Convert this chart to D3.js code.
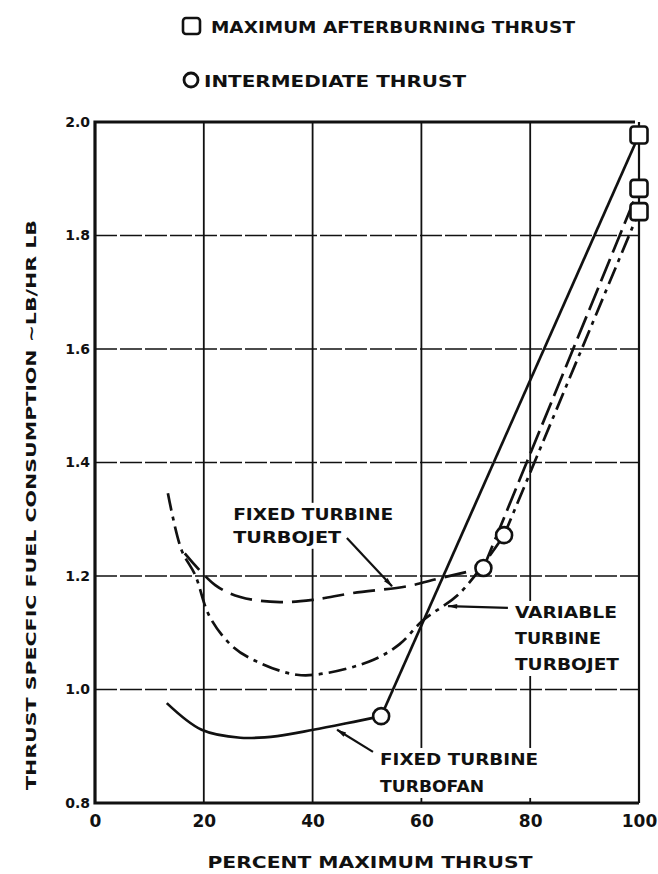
<!DOCTYPE html>
<html><head><meta charset="utf-8">
<script src="https://cdn.jsdelivr.net/npm/d3@7"></script>
<style>
html,body{margin:0;padding:0;background:#fff;}
svg{display:block;}
text{font-family:"DejaVu Sans",sans-serif;font-weight:bold;fill:#111;}
</style></head>
<body><svg id="c" width="658" height="874"></svg>
<script>
// ---- data ----
const xTicks = [0, 20, 40, 60, 80, 100];
const yTicks = [0.8, 1.0, 1.2, 1.4, 1.6, 1.8, 2.0];
const yTickLabels = ["0.8", "1.0", "1.2", "1.4", "1.6", "1.8", "2.0"];

// Fixed turbine turbofan (solid) – part-power curve ending at intermediate thrust
const turbofanX = [13.2, 19.6, 26.7, 33.5, 40.1, 46.0, 51.1, 52.6];
const turbofanY = [0.976, 0.929, 0.915, 0.918, 0.929, 0.940, 0.950, 0.953];
// Fixed turbine turbojet (long dashed)
const fixedJetX = [16.5, 22.1, 26.7, 34.0, 40.1, 47.4, 57.4, 63.4, 71.4];
const fixedJetY = [1.240, 1.184, 1.163, 1.154, 1.158, 1.170, 1.182, 1.196, 1.214];
// Variable turbine turbojet (dash-dot)
const varJetX = [13.4, 15.9, 18.4, 21.1, 25.4, 30.5, 37.1, 42.6, 51.1, 56.0, 60.3, 67.1, 75.2];
const varJetY = [1.346, 1.246, 1.202, 1.128, 1.075, 1.046, 1.026, 1.029, 1.052, 1.080, 1.122, 1.170, 1.272];

// Intermediate thrust points (circles) and max afterburning points (squares)
const interX = [52.6, 71.4, 75.2];
const interY = [0.953, 1.214, 1.272];
const abX = [100, 100, 100];
const abY = [1.977, 1.883, 1.842];

// ---- scales ----
const svg = d3.select("#c");
const x = d3.scaleLinear().domain([0, 100]).range([95, 639]);
const y = d3.scaleLinear().domain([0.8, 2.0]).range([803, 122]);

// ---- grid ----
const g = svg.append("g");
g.selectAll(".vg").data([20, 40, 60, 80]).enter().append("line")
  .attr("x1", d => x(d)).attr("x2", d => x(d))
  .attr("y1", y(2.0)).attr("y2", y(0.8))
  .attr("stroke", "#111").attr("stroke-width", 1.8);
g.selectAll(".hg").data([1.0, 1.2, 1.4, 1.6, 1.8]).enter().append("line")
  .attr("x1", x(0)).attr("x2", x(100))
  .attr("y1", d => y(d)).attr("y2", d => y(d))
  .attr("stroke", "#111").attr("stroke-width", 1.3)
  .attr("stroke-dasharray", "22,3");

// ---- frame ----
g.append("line").attr("x1", x(100)).attr("x2", x(100)).attr("y1", y(2.0)).attr("y2", y(0.8))
  .attr("stroke", "#111").attr("stroke-width", 2.2);
g.append("path")
  .attr("d", `M${x(100)-4},${y(2.0)} L${x(0)},${y(2.0)} L${x(0)},${y(0.8)} L${x(100)},${y(0.8)}`)
  .attr("fill", "none").attr("stroke", "#111").attr("stroke-width", 3.2);

// ---- axes tick labels ----
const xAxis = d3.axisBottom(x).tickValues(xTicks).tickSize(0).tickPadding(12).tickFormat(d3.format("d"));
const xa = svg.append("g").attr("transform", `translate(0,${y(0.8)})`).call(xAxis);
xa.select(".domain").remove();
xa.selectAll("text").style("font-family", '"DejaVu Sans",sans-serif').style("font-weight", "bold")
  .style("font-size", "17px").attr("fill", "#111");

const yAxis = d3.axisLeft(y).tickValues(yTicks).tickSize(0).tickPadding(5)
  .tickFormat((d, i) => yTickLabels[i]);
const ya = svg.append("g").attr("transform", `translate(${x(0)},0)`).call(yAxis);
ya.select(".domain").remove();
ya.selectAll("text").style("font-family", '"DejaVu Sans",sans-serif').style("font-weight", "bold")
  .style("font-size", "14px").attr("fill", "#111");

// ---- labels (they interrupt the grid) ----
function label(lines, lx, ly0, dy, size, widths) {
  const grp = svg.append("g");
  lines.forEach((t, i) => {
    const tx = grp.append("text").attr("x", x(lx)).attr("y", y(ly0) + i * dy)
      .style("font-size", size + "px").text(t);
    if (widths && widths[i]) tx.attr("textLength", widths[i]).attr("lengthAdjust", "spacingAndGlyphs");
  });
  const bb = grp.node().getBBox();
  grp.insert("rect", "text").attr("x", bb.x - 3).attr("y", bb.y - 2)
    .attr("width", bb.width + 6).attr("height", bb.height + 4).attr("fill", "#fff");
  return grp;
}

// ---- curves ----
const line = d3.line().x(d => x(d[0])).y(d => y(d[1])).curve(d3.curveCatmullRom.alpha(0.5));
const lin = d3.line().x(d => x(d[0])).y(d => y(d[1]));
const zip = (a, b) => a.map((v, i) => [v, b[i]]);

const curves = svg.append("g").attr("fill", "none").attr("stroke", "#111").attr("stroke-width", 2.7);
curves.append("path").attr("d", line(zip(turbofanX, turbofanY)));
curves.append("path").attr("d", lin([[interX[0], interY[0]], [abX[0], abY[0]]]));
curves.append("path").attr("d", line(zip(fixedJetX, fixedJetY))).attr("stroke-dasharray", "22,9");
curves.append("path").attr("d", lin([[interX[1], interY[1]], [abX[1], abY[1]]])).attr("stroke-dasharray", "24,7");
curves.append("path").attr("d", line(zip(varJetX, varJetY))).attr("stroke-dasharray", "18,6,4,6");
curves.append("path").attr("d", lin([[interX[2], interY[2]], [abX[2], abY[2]]])).attr("stroke-dasharray", "18,6,4,6");

// ---- symbols ----
svg.selectAll(".ci").data(zip(interX, interY)).enter().append("circle")
  .attr("cx", d => x(d[0])).attr("cy", d => y(d[1])).attr("r", 8)
  .attr("fill", "#fff").attr("stroke", "#111").attr("stroke-width", 2.6);
svg.selectAll(".sq").data(zip(abX, abY)).enter().append("rect")
  .attr("x", d => x(d[0]) - 8.5).attr("y", d => y(d[1]) - 8.5)
  .attr("width", 17).attr("height", 17).attr("rx", 3)
  .attr("fill", "#fff").attr("stroke", "#111").attr("stroke-width", 2.6);

// ---- annotations ----
label(["FIXED TURBINE", "TURBOJET"], 25.4, 1.299, 23, 16, [160, 108]);
label(["VARIABLE", "TURBINE", "TURBOJET"], 77.2, 1.126, 26, 16, [102, 86, 104]);
label(["FIXED TURBINE", "TURBOFAN"], 52.4, 0.867, 27, 16, [158, 104]);

// arrows
const defs = svg.append("defs");
defs.append("marker").attr("id", "ah").attr("viewBox", "0 0 14 10").attr("refX", 13).attr("refY", 5)
  .attr("markerWidth", 13).attr("markerHeight", 7).attr("orient", "auto").attr("markerUnits", "userSpaceOnUse")
  .append("path").attr("d", "M0,1.5 L14,5 L0,8.5 Z").attr("fill", "#111");
const arrows = [
  [[46.3, 1.267], [54.6, 1.182]],
  [[75.9, 1.144], [64.9, 1.147]],
  [[51.1, 0.890], [44.5, 0.929]]
];
svg.selectAll(".ar").data(arrows).enter().append("line")
  .attr("x1", d => x(d[0][0])).attr("y1", d => y(d[0][1]))
  .attr("x2", d => x(d[1][0])).attr("y2", d => y(d[1][1]))
  .attr("stroke", "#111").attr("stroke-width", 2.2)
  .attr("marker-end", "url(#ah)");

// ---- legend ----
svg.append("rect").attr("x", 183).attr("y", 18).attr("width", 17).attr("height", 16).attr("rx", 3)
  .attr("fill", "#fff").attr("stroke", "#111").attr("stroke-width", 2.6);
svg.append("text").attr("x", 211).attr("y", 33).style("font-size", "15px")
  .attr("textLength", 364).attr("lengthAdjust", "spacingAndGlyphs").text("MAXIMUM AFTERBURNING THRUST");
svg.append("circle").attr("cx", 191).attr("cy", 80).attr("r", 7)
  .attr("fill", "#fff").attr("stroke", "#111").attr("stroke-width", 2.8);
svg.append("text").attr("x", 204).attr("y", 87).style("font-size", "15px")
  .attr("textLength", 262).attr("lengthAdjust", "spacingAndGlyphs").text("INTERMEDIATE THRUST");

// ---- axis titles ----
svg.append("text").attr("x", 370).attr("y", 868).attr("text-anchor", "middle").style("font-size", "16px")
  .attr("textLength", 325).attr("lengthAdjust", "spacingAndGlyphs").text("PERCENT MAXIMUM THRUST");
svg.append("text").attr("transform", "translate(36,505) rotate(-90)").attr("text-anchor", "middle")
  .style("font-size", "14px").attr("textLength", 570).attr("lengthAdjust", "spacingAndGlyphs")
  .text("THRUST SPECFIC FUEL CONSUMPTION ~LB/HR LB");
</script></body></html>
